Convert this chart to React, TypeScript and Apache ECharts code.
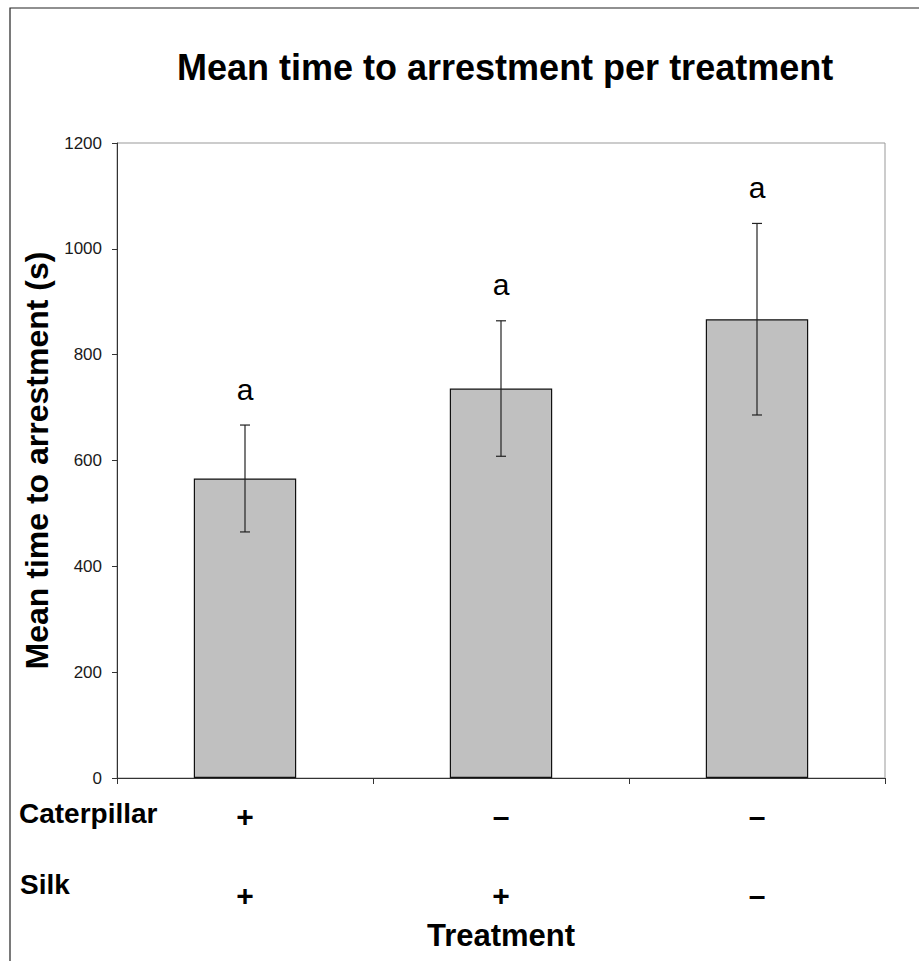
import React, { useEffect, useRef } from "react";
import * as echarts from "echarts";

const caterpillarMarks = ["+", "–", "–"];
const silkMarks = ["+", "+", "–"];
const treatments = ["+/+", "–/+", "–/–"];
const meanTimes = [566, 736, 867];
const stdErrors = [101, 128, 181];
const sigLetters = ["a", "a", "a"];
const yMin = 0;
const yMax = 1200;
const yInterval = 200;

const FONT = "'Liberation Sans', Arial, Helvetica, sans-serif";

export default function App() {
  const ref = useRef<HTMLDivElement>(null);

  useEffect(() => {
    if (!ref.current) return;
    const chart = echarts.init(ref.current, null, { renderer: "svg" });

    const option: any = {
      animation: false,
      backgroundColor: "#ffffff",
      title: {
        text: "Mean time to arrestment per treatment",
        left: 172,
        top: 44,
        textStyle: { fontFamily: FONT, fontSize: 36, fontWeight: "bold", color: "#000" },
      },
      grid: {
        left: 117,
        top: 143,
        right: 34,
        bottom: 183,
        show: true,
        borderColor: "#999999",
        borderWidth: 1,
        backgroundColor: "#ffffff",
      },
      xAxis: {
        type: "category",
        data: treatments,
        name: "Treatment",
        nameLocation: "middle",
        nameGap: 142,
        nameTextStyle: { fontFamily: FONT, fontSize: 31, fontWeight: "bold", color: "#000" },
        axisLine: { show: true, lineStyle: { color: "#333", width: 1 } },
        axisTick: { show: true, length: 6, lineStyle: { color: "#333" } },
        axisLabel: {
          margin: 18,
          formatter: (_v: string, i: number) => `{c|${caterpillarMarks[i]}}\n{s|${silkMarks[i]}}`,
          rich: {
            c: { fontFamily: FONT, fontSize: 30, fontWeight: "bold", color: "#000", lineHeight: 40 },
            s: { fontFamily: FONT, fontSize: 30, fontWeight: "bold", color: "#000", lineHeight: 118 },
          },
        },
        splitLine: { show: false },
      },
      yAxis: {
        type: "value",
        min: yMin,
        max: yMax,
        interval: yInterval,
        name: "Mean time to arrestment (s)",
        nameLocation: "middle",
        nameGap: 63,
        nameRotate: 90,
        nameTextStyle: { fontFamily: FONT, fontSize: 32, fontWeight: "bold", color: "#000" },
        axisLine: { show: true, lineStyle: { color: "#333", width: 1 } },
        axisTick: { show: true, length: 5, lineStyle: { color: "#333" } },
        axisLabel: {
          margin: 15,
          fontFamily: FONT,
          fontSize: 17,
          color: "#1a1a1a",
          formatter: (v: number) => String(v),
        },
        splitLine: { show: false },
      },
      series: [
        {
          type: "bar",
          data: meanTimes,
          barWidth: "40%",
          itemStyle: { color: "#c0c0c0", borderColor: "#111", borderWidth: 1.2 },
          z: 2,
        },
        {
          type: "custom",
          z: 3,
          data: meanTimes.map((m, i) => [i, m, stdErrors[i]]),
          encode: { x: 0, y: 1 },
          renderItem: (params: any, api: any) => {
            const idx = params.dataIndex;
            const x = api.value(0);
            const m = api.value(1);
            const e = api.value(2);
            const top = api.coord([x, m + e]);
            const bot = api.coord([x, m - e]);
            const cap = 5;
            const stroke = { stroke: "#222", lineWidth: 1.2 };
            return {
              type: "group",
              children: [
                { type: "line", shape: { x1: top[0], y1: top[1], x2: bot[0], y2: bot[1] }, style: stroke },
                { type: "line", shape: { x1: top[0] - cap, y1: top[1], x2: top[0] + cap, y2: top[1] }, style: stroke },
                { type: "line", shape: { x1: bot[0] - cap, y1: bot[1], x2: bot[0] + cap, y2: bot[1] }, style: stroke },
                {
                  type: "text",
                  x: top[0],
                  y: top[1] - 36,
                  style: {
                    text: sigLetters[idx],
                    fontFamily: FONT,
                    fontSize: 30,
                    fill: "#000",
                    align: "center",
                    verticalAlign: "middle",
                  },
                },
              ],
            };
          },
        },
      ],
      graphic: [
        {
          type: "rect",
          shape: { x: 10, y: 8, width: 1000, height: 1000 },
          style: { fill: "none", stroke: "#222", lineWidth: 1.2 },
          silent: true,
          z: -10,
        },
        {
          type: "text",
          x: 19,
          y: 813,
          style: {
            text: "Caterpillar",
            fontFamily: FONT,
            fontSize: 28,
            fontWeight: "bold",
            fill: "#000",
            align: "left",
            verticalAlign: "middle",
          },
        },
        {
          type: "text",
          x: 20,
          y: 884,
          style: {
            text: "Silk",
            fontFamily: FONT,
            fontSize: 28,
            fontWeight: "bold",
            fill: "#000",
            align: "left",
            verticalAlign: "middle",
          },
        },
      ],
    };

    chart.setOption(option);
    return () => chart.dispose();
  }, []);

  return (
    <div
      ref={ref}
      style={{ position: "fixed", left: 0, top: 0, width: 919, height: 961, background: "#fff" }}
    />
  );
}
